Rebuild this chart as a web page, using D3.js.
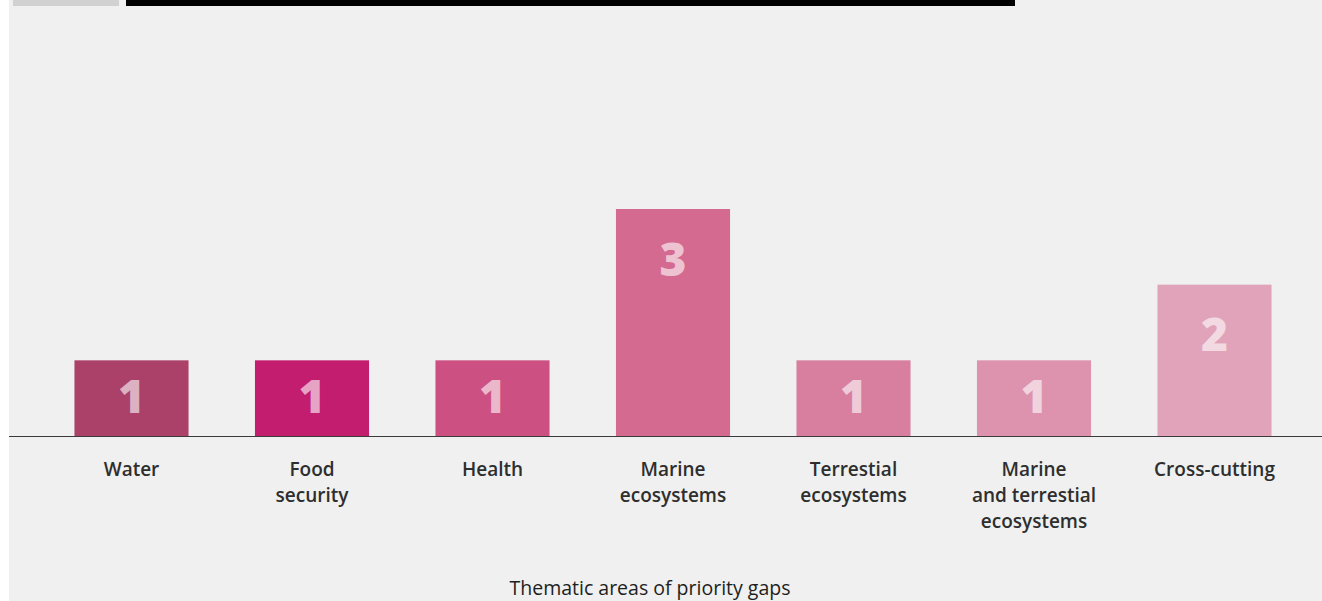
<!DOCTYPE html>
<html><head><meta charset="utf-8">
<script src="https://cdn.jsdelivr.net/npm/d3@7"></script>
<style>html,body{margin:0;padding:0;background:#fff;}svg{display:block;}</style>
</head><body>
<svg id="chart" width="1322" height="601"></svg>
<script>
const categories = [["Water"],["Food","security"],["Health"],["Marine","ecosystems"],["Terrestial","ecosystems"],["Marine","and terrestial","ecosystems"],["Cross-cutting"]];
const values = [1,1,1,3,1,1,2];
const colors = ["#ab4068","#c21d6e","#cc5081","#d46a90","#d87f9f","#dd93ad","#e1a3b9"];
const axisTitle = "Thematic areas of priority gaps";

const svg = d3.select("#chart");
const W = 1322, H = 601;
svg.append("rect").attr("x",9).attr("y",0).attr("width",W-9).attr("height",H).attr("fill","#eff0ef");
// header strip (title cropped)
svg.append("rect").attr("x",13).attr("y",0).attr("width",106).attr("height",6).attr("fill","#d0d1d0");
svg.append("rect").attr("x",126).attr("y",0).attr("width",889).attr("height",6).attr("fill","#000");

const idx = d3.range(values.length);
const x = d3.scaleBand().domain(idx).range([41.25,1304.75]).paddingInner(0.368).paddingOuter(0.184);
const y = d3.scaleLinear().domain([0,3]).range([436,209]);

const g = svg.append("g");
g.selectAll("rect.bar").data(idx).join("rect").attr("class","bar")
  .attr("x",i=>x(i)).attr("width",x.bandwidth())
  .attr("y",i=>y(values[i])).attr("height",i=>y(0)-y(values[i]))
  .attr("fill",i=>colors[i]);

g.selectAll("text.val").data(idx).join("text").attr("class","val")
  .attr("x",i=>x(i)+x.bandwidth()/2)
  .attr("y",i=>{const top=y(values[i]);const h=y(0)-top;return top+Math.min(h/2-2,50);})
  .attr("dy","0.36em")
  .attr("text-anchor","middle")
  .attr("font-family","'Open Sans', sans-serif").attr("font-weight",800).attr("font-size",46)
  .attr("fill","#ffffff").attr("fill-opacity",0.6)
  .text(i=>values[i]);

svg.append("line").attr("x1",9).attr("x2",W).attr("y1",436.5).attr("y2",436.5).attr("stroke","#3a3a3a").attr("stroke-width",1.2);

const lab = g.selectAll("text.cat").data(idx).join("text").attr("class","cat")
  .attr("text-anchor","middle")
  .attr("font-family","'Open Sans', sans-serif").attr("font-weight",600).attr("font-size",19)
  .attr("fill","#2e2e2e");
lab.each(function(i){
  const t=d3.select(this);
  categories[i].forEach((s,k)=>{
    t.append("tspan").attr("x",x(i)+x.bandwidth()/2).attr("y",476+k*26).text(s);
  });
});

svg.append("text").attr("x",650).attr("y",594.5).attr("text-anchor","middle")
  .attr("font-family","'Open Sans', sans-serif").attr("font-size",19.5).attr("fill","#1e1e1e")
  .text(axisTitle);
</script>
</body></html>
